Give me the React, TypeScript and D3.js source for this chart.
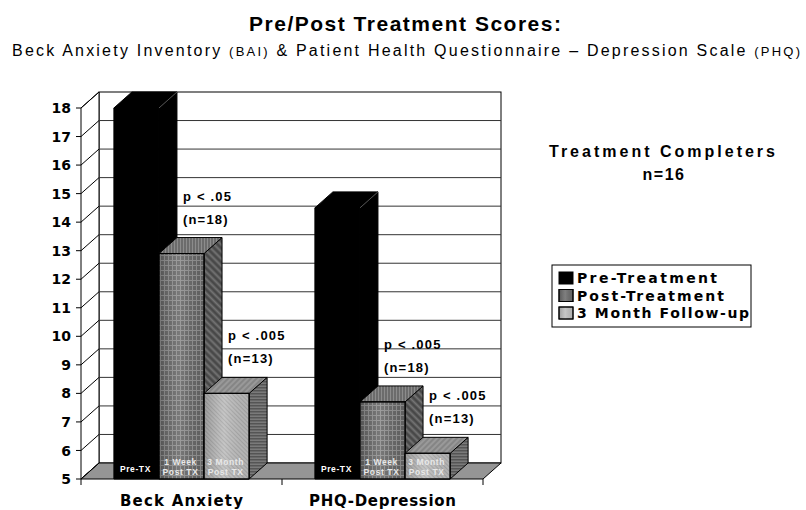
import React, { useEffect, useRef } from 'react';
import * as d3 from 'd3';

const categories = ['Beck Anxiety', 'PHQ-Depression'];
const seriesNames = ['Pre-Treatment', 'Post-Treatment', '3 Month Follow-up'];
const preTreatment = [18, 14.5];
const postTreatment = [12.9, 7.7];
const followUp = [8.0, 5.9];
const yTicks = [5, 6, 7, 8, 9, 10, 11, 12, 13, 14, 15, 16, 17, 18];
const barLabels = [['Pre-TX'], ['1 Week', 'Post TX'], ['3 Month', 'Post TX']];
const postP = ['p < .05', 'p < .005'];
const postN = ['(n=18)', '(n=18)'];
const followP = ['p < .005', 'p < .005'];
const followN = ['(n=13)', '(n=13)'];

const App = () => {
  const svgRef = useRef(null);

  useEffect(() => {
    const W = 806;
    const H = 510;
    const dx = 18;
    const dy = 16;
    const L = 81, R = 483, T = 108, B = 479;
    const arial = '"Liberation Sans", Arial, sans-serif';
    const verdana = '"DejaVu Sans", Verdana, sans-serif';

    const svg = d3
      .select(svgRef.current)
      .attr('width', W)
      .attr('height', H)
      .style('position', 'absolute')
      .style('left', 0)
      .style('top', 0)
      .style('background', '#fff')
      .html('');

    // patterns for the 3d bar faces
    const defs = svg.append('defs');
    const pattern = (id, w, h, bg, rot, draw) => {
      const p = defs.append('pattern')
        .attr('id', id)
        .attr('patternUnits', 'userSpaceOnUse')
        .attr('width', w)
        .attr('height', h);
      if (rot) p.attr('patternTransform', `rotate(${rot})`);
      p.append('rect').attr('width', w).attr('height', h).attr('fill', bg);
      draw(p);
    };
    pattern('postFront', 4, 5, '#646464', 0, p => {
      p.append('path').attr('d', 'M0.5,0V5M0,0.5H4').attr('stroke', '#8e8e8e').attr('stroke-width', 1);
    });
    pattern('postSide', 5, 5, '#484848', 45, p => {
      p.append('path').attr('d', 'M0,1.5H5').attr('stroke', '#747474').attr('stroke-width', 2);
    });
    pattern('postTop', 3, 3, '#6c6c6c', 0, p => {
      p.append('path').attr('d', 'M0.5,0V3').attr('stroke', '#8c8c8c').attr('stroke-width', 1);
    });
    pattern('followFront', 3, 3, '#bcbcbc', 45, p => {
      p.append('path').attr('d', 'M0,0.5H3').attr('stroke', '#a6a6a6').attr('stroke-width', 1);
    });
    pattern('followSide', 4, 3, '#7a7a7a', 0, p => {
      p.append('path').attr('d', 'M0,0.75H4').attr('stroke', '#555').attr('stroke-width', 1.5);
    });
    pattern('followTop', 4, 4, '#999', -45, p => {
      p.append('path').attr('d', 'M0,1H4').attr('stroke', '#7e7e7e').attr('stroke-width', 1.5);
    });
    const shade = defs.append('linearGradient').attr('id', 'shade').attr('x1', 0).attr('x2', 1).attr('y1', 0).attr('y2', 0);
    shade.append('stop').attr('offset', '0').attr('stop-color', '#000').attr('stop-opacity', 0.18);
    shade.append('stop').attr('offset', '0.45').attr('stop-color', '#fff').attr('stop-opacity', 0.14);
    shade.append('stop').attr('offset', '1').attr('stop-color', '#000').attr('stop-opacity', 0.05);

    const faces = [
      { front: '#000', side: '#000', top: '#000' },
      { front: 'url(#postFront)', side: 'url(#postSide)', top: 'url(#postTop)' },
      { front: 'url(#followFront)', side: 'url(#followSide)', top: 'url(#followTop)' },
    ];
    const values = [preTreatment, postTreatment, followUp];

    // Scales
    const x = d3.scaleBand().domain(categories).range([L, R]);
    const xs = d3.scaleBand().domain(seriesNames).range([0, x.bandwidth()]).paddingOuter(0.73);
    const y = d3.scaleLinear().domain([5, 18]).range([B, T]);

    // Titles
    svg.append('text')
      .attr('x', 405).attr('y', 31)
      .attr('text-anchor', 'middle')
      .attr('textLength', 312).attr('lengthAdjust', 'spacing')
      .style('font-family', arial).style('font-weight', 'bold').style('font-size', '21px')
      .text('Pre/Post Treatment Scores:');

    const sub = svg.append('text')
      .attr('x', 12).attr('y', 56)
      .attr('textLength', 788).attr('lengthAdjust', 'spacing')
      .style('font-family', arial).style('font-size', '16px');
    sub.append('tspan').text('Beck Anxiety Inventory ');
    sub.append('tspan').style('font-size', '13px').text('(BAI)');
    sub.append('tspan').text(' & Patient Health Questionnaire – Depression Scale ');
    sub.append('tspan').style('font-size', '13px').text('(PHQ)');

    // Walls and floor
    svg.append('rect')
      .attr('x', L + dx).attr('y', T - dy)
      .attr('width', R - L).attr('height', B - T)
      .attr('fill', '#fff').attr('stroke', '#000');

    svg.append('polygon')
      .attr('points', [[L, B], [L, T], [L + dx, T - dy], [L + dx, B - dy]].join(' '))
      .attr('fill', '#fff').attr('stroke', '#000');

    svg.append('polygon')
      .attr('points', [[L, B], [R, B], [R + dx, B - dy], [L + dx, B - dy]].join(' '))
      .attr('fill', '#959595').attr('stroke', '#000');

    // Grid
    svg.append('g')
      .selectAll('line')
      .data(yTicks.filter(v => v > 5 && v < 18))
      .join('line')
      .attr('x1', L + dx).attr('x2', R + dx)
      .attr('y1', d => y(d) - dy).attr('y2', d => y(d) - dy)
      .attr('stroke', '#333').attr('stroke-width', 1);

    svg.append('g')
      .selectAll('line')
      .data(yTicks)
      .join('line')
      .attr('x1', L).attr('x2', L + dx)
      .attr('y1', d => y(d)).attr('y2', d => y(d) - dy)
      .attr('stroke', '#000').attr('stroke-width', 1);

    // Y axis
    const yAxis = svg.append('g');
    yAxis.selectAll('line')
      .data(yTicks)
      .join('line')
      .attr('x1', L - 5).attr('x2', L)
      .attr('y1', d => y(d)).attr('y2', d => y(d))
      .attr('stroke', '#000');
    yAxis.selectAll('text')
      .data(yTicks)
      .join('text')
      .attr('x', L - 10).attr('y', d => y(d))
      .attr('dy', '0.36em')
      .attr('text-anchor', 'end')
      .style('font-family', verdana).style('font-weight', 'bold').style('font-size', '14px')
      .text(d => d);

    // X axis ticks and labels
    const xTickPos = [L, ...categories.slice(1).map(c => x(c)), R];
    svg.append('g')
      .selectAll('line')
      .data(xTickPos)
      .join('line')
      .attr('x1', d => d).attr('x2', d => d)
      .attr('y1', B).attr('y2', B + 6)
      .attr('stroke', '#000');

    svg.append('g')
      .selectAll('text')
      .data(categories)
      .join('text')
      .attr('x', d => x(d) + x.bandwidth() / 2)
      .attr('y', 506)
      .attr('text-anchor', 'middle')
      .attr('textLength', (d, i) => (i === 0 ? 123 : 147)).attr('lengthAdjust', 'spacing')
      .style('font-family', verdana).style('font-weight', 'bold').style('font-size', '15px')
      .text(d => d);

    // Bars
    const bars = svg.append('g');
    categories.forEach((cat, ci) => {
      seriesNames.forEach((s, si) => {
        const v = values[si][ci];
        const bx = x(cat) + xs(s);
        const w = xs.bandwidth();
        const yt = y(v);
        const f = faces[si];
        const g = bars.append('g').attr('stroke', '#000').attr('stroke-width', 1).attr('stroke-linejoin', 'round');

        g.append('polygon')
          .attr('points', [[bx + w, yt], [bx + w + dx, yt - dy], [bx + w + dx, B - dy], [bx + w, B]].join(' '))
          .attr('fill', f.side);
        g.append('polygon')
          .attr('points', [[bx, yt], [bx + dx, yt - dy], [bx + w + dx, yt - dy], [bx + w, yt]].join(' '))
          .attr('fill', f.top);
        g.append('rect')
          .attr('x', bx).attr('y', yt)
          .attr('width', w).attr('height', B - yt)
          .attr('fill', f.front);
        if (si > 0) {
          g.append('rect')
            .attr('x', bx).attr('y', yt)
            .attr('width', w).attr('height', B - yt)
            .attr('fill', 'url(#shade)').attr('stroke', '#000');
        } else {
          g.append('line')
            .attr('x1', bx + w).attr('y1', yt)
            .attr('x2', bx + w + dx).attr('y2', yt - dy)
            .attr('stroke', '#555');
        }

        // labels inside bar bottoms
        const lines = barLabels[si];
        const lt = g.append('text')
          .attr('text-anchor', 'middle')
          .attr('stroke', 'none')
          .attr('fill', si === 0 ? '#fff' : '#e8e8e8')
          .style('font-family', arial).style('font-weight', 'bold').style('font-size', '8.5px')
          .style('letter-spacing', '0.6px');
        lines.forEach((t, li) => {
          lt.append('tspan')
            .attr('x', bx + w / 2 - 1)
            .attr('y', lines.length === 1 ? B - 7 : B - 14 + li * 10)
            .text(t);
        });
      });
    });

    // significance annotations
    const annot = svg.append('g')
      .style('font-family', arial).style('font-weight', 'bold').style('font-size', '13px')
      .style('letter-spacing', '1.2px');
    categories.forEach((cat, ci) => {
      [[1, postP, postN], [2, followP, followN]].forEach(([si, pArr, nArr]) => {
        const s = seriesNames[si];
        const ax = x(cat) + xs(s) + 24;
        const ay = y(values[si][ci]) - 30;
        annot.append('text').attr('x', ax).attr('y', ay - 23).text(pArr[ci]);
        annot.append('text').attr('x', ax).attr('y', ay).text(nArr[ci]);
      });
    });

    // side note
    svg.append('text')
      .attr('x', 662).attr('y', 157)
      .attr('text-anchor', 'middle')
      .attr('textLength', 226).attr('lengthAdjust', 'spacing')
      .style('font-family', arial).style('font-weight', 'bold').style('font-size', '16px')
      .text('Treatment Completers');
    svg.append('text')
      .attr('x', 664).attr('y', 180)
      .attr('text-anchor', 'middle')
      .style('font-family', arial).style('font-weight', 'bold').style('font-size', '16px')
      .style('letter-spacing', '1.5px')
      .text('n=16');

    // Legend
    const legend = svg.append('g').attr('transform', 'translate(552,265)');
    legend.append('rect')
      .attr('width', 199).attr('height', 62)
      .attr('fill', '#fff').attr('stroke', '#000');
    const swatch = ['#000', '#6a6a6a', '#bdbdbd'];
    const legendWidths = [140, 147, 172];
    seriesNames.forEach((s, i) => {
      const row = legend.append('g').attr('transform', `translate(7,${13 + i * 17.5})`);
      row.append('rect')
        .attr('x', 0).attr('y', -6)
        .attr('width', 14).attr('height', 12)
        .attr('fill', swatch[i]).attr('stroke', '#000');
      if (i > 0) {
        row.append('rect')
          .attr('x', 0).attr('y', -6)
          .attr('width', 14).attr('height', 12)
          .attr('fill', 'url(#shade)').attr('stroke', '#000');
      }
      row.append('text')
        .attr('x', 18).attr('y', 0).attr('dy', '0.36em')
        .attr('textLength', legendWidths[i]).attr('lengthAdjust', 'spacing')
        .style('font-family', verdana).style('font-weight', 'bold').style('font-size', '14px')
        .text(s);
    });
  }, []);

  return <svg ref={svgRef}></svg>;
};

export default App;
